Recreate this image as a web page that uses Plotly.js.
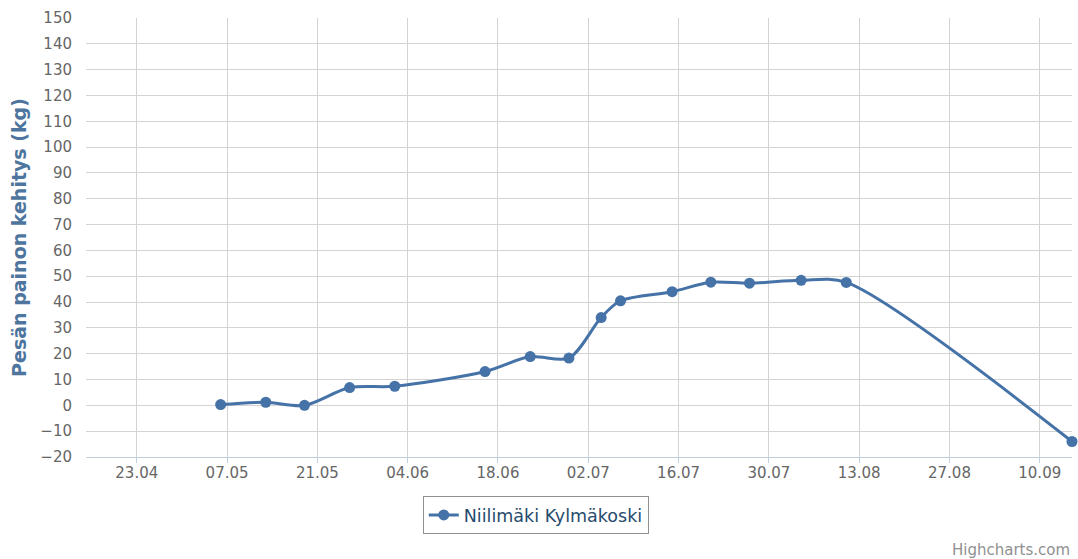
<!DOCTYPE html>
<html>
<head>
<meta charset="utf-8">
<script src="https://cdn.plot.ly/plotly-3.0.1.min.js"></script>
<style>
html,body{margin:0;padding:0;background:#fff;}
#chart{width:1078px;height:559px;}
</style>
</head>
<body>
<div id="chart"></div>
<script>
// Data
const seriesName = "Niilimäki Kylmäkoski";
const dates = ["2015-05-06","2015-05-13","2015-05-19","2015-05-26","2015-06-02","2015-06-16","2015-06-23","2015-06-29","2015-07-04","2015-07-07","2015-07-15","2015-07-21","2015-07-27","2015-08-04","2015-08-11","2015-09-15"];
const weights = [0.3, 1.2, 0, 6.9, 7.4, 13.1, 18.9, 18.3, 34, 40.5, 44, 47.7, 47.3, 48.4, 47.6, -14];
const yTickVals = [-20,-10,0,10,20,30,40,50,60,70,80,90,100,110,120,130,140,150];
const yTitle = "Pesän painon kehitys (kg)";
const creditText = "Highcharts.com";

const trace = {
  x: dates,
  y: weights,
  name: seriesName,
  type: "scatter",
  mode: "lines+markers",
  line: {shape: "spline", smoothing: 0.85, color: "#4572A7", width: 3},
  marker: {size: 11, color: "#4572A7"},
  cliponaxis: false,
  showlegend: true
};

const layout = {
  width: 1078,
  height: 559,
  margin: {l: 86, r: 6, t: 18, b: 102},
  paper_bgcolor: "#ffffff",
  plot_bgcolor: "#ffffff",
  font: {family: "DejaVu Sans, sans-serif", size: 15, color: "#666666"},
  xaxis: {
    type: "date",
    range: ["2015-04-15 03:00", "2015-09-15"],
    tick0: "2015-04-23",
    dtick: 14 * 24 * 3600 * 1000,
    tickformat: "%d.%m",
    showgrid: true,
    gridcolor: "#d3d3d3",
    gridwidth: 1,
    showline: true,
    linecolor: "#C0D0E0",
    linewidth: 1,
    ticks: "outside",
    ticklen: 5,
    tickcolor: "#C0D0E0",
    ticklabelstandoff: -3,
    zeroline: false,
    tickfont: {size: 15, color: "#666666"},
    fixedrange: true
  },
  yaxis: {
    range: [-20, 150],
    tickvals: yTickVals,
    showgrid: true,
    gridcolor: "#d3d3d3",
    gridwidth: 1,
    zeroline: false,
    showline: false,
    ticks: "",
    ticklabelstandoff: 13,
    tickfont: {size: 15, color: "#666666"},
    title: {text: yTitle, font: {size: 19, color: "#4d759e", family: "DejaVu Sans, sans-serif", weight: "bold"}, standoff: 8},
    fixedrange: true
  },
  showlegend: true,
  legend: {
    orientation: "h",
    xref: "container",
    yref: "container",
    x: 0.497,
    xanchor: "center",
    y: 1 - 496/559,
    yanchor: "top",
    bordercolor: "#909090",
    borderwidth: 1,
    bgcolor: "#ffffff",
    font: {size: 17.5, color: "#274b6d"},
    itemwidth: 30
  },
  annotations: [{
    text: creditText,
    xref: "paper",
    yref: "paper",
    x: 1.0,
    xanchor: "right",
    y: -0.212,
    yanchor: "middle",
    showarrow: false,
    font: {size: 15, color: "#909090"}
  }]
};

Plotly.newPlot("chart", [trace], layout, {displayModeBar: false, staticPlot: true});
</script>
</body>
</html>
